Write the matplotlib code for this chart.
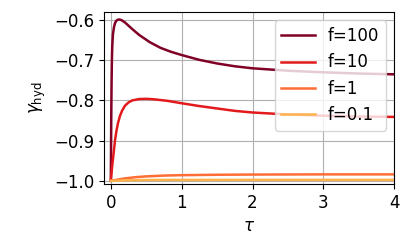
import matplotlib
matplotlib.use("Agg")
import matplotlib.pyplot as plt

# values
tau_100 = [0.0, 0.005, 0.01, 0.015, 0.02, 0.03, 0.045, 0.06, 0.08, 0.1, 0.12, 0.15,
           0.2, 0.3, 0.4, 0.55, 0.7, 0.85, 1.0, 1.25, 1.5, 1.75, 2.0, 2.5, 3.0, 3.5, 4.0]
gamma_100 = [-1.0, -0.86, -0.76, -0.70, -0.665, -0.635, -0.617, -0.607, -0.601, -0.599, -0.5985, -0.600,
             -0.606, -0.622, -0.637, -0.655, -0.669, -0.679, -0.687, -0.699, -0.708, -0.715, -0.720,
             -0.726, -0.730, -0.733, -0.735]

tau_10 = [0.0, 0.02, 0.04, 0.06, 0.08, 0.1, 0.13, 0.16, 0.2, 0.25, 0.3, 0.4, 0.5, 0.6,
          0.8, 1.0, 1.25, 1.5, 1.75, 2.0, 2.5, 3.0, 3.5, 4.0]
gamma_10 = [-1.0, -0.962, -0.93, -0.898, -0.875, -0.857, -0.838, -0.825, -0.813, -0.805, -0.800,
            -0.7965, -0.796, -0.797, -0.801, -0.807, -0.814, -0.820, -0.826, -0.830, -0.835,
            -0.838, -0.840, -0.841]

tau_1 = [0.0, 0.1, 0.2, 0.35, 0.5, 0.75, 1.0, 1.5, 2.0, 3.0, 4.0]
gamma_1 = [-1.0, -0.997, -0.994, -0.991, -0.989, -0.987, -0.986, -0.985, -0.9845, -0.984, -0.984]

tau_01 = [0.0, 0.2, 0.5, 1.0, 2.0, 4.0]
gamma_01 = [-1.0, -0.999, -0.998, -0.9978, -0.9977, -0.9977]

plt.rcParams["font.size"] = 12

fig = plt.figure(figsize=(4.15, 2.46), dpi=100)
ax = fig.add_axes([0.25, 0.252, 0.70, 0.699])

ax.plot(tau_100, gamma_100, color="#800026", lw=1.8, label="f=100")
ax.plot(tau_10, gamma_10, color="#e31a1c", lw=1.8, label="f=10")
ax.plot(tau_1, gamma_1, color="#fd6e36", lw=1.8, label="f=1")
ax.plot(tau_01, gamma_01, color="#feb24c", lw=1.8, label="f=0.1")

ax.set_xlim(-0.1, 4.0)
ax.set_ylim(-1.008, -0.58)
ax.set_xticks([0, 1, 2, 3, 4])
ax.set_yticks([-1.0, -0.9, -0.8, -0.7, -0.6])
ax.grid(True)
ax.set_xlabel(r"$\tau$")
ax.set_ylabel(r"$\gamma_{\mathrm{hyd}}$")
ax.legend(loc="upper right")

fig.savefig("out.png", dpi=100)
